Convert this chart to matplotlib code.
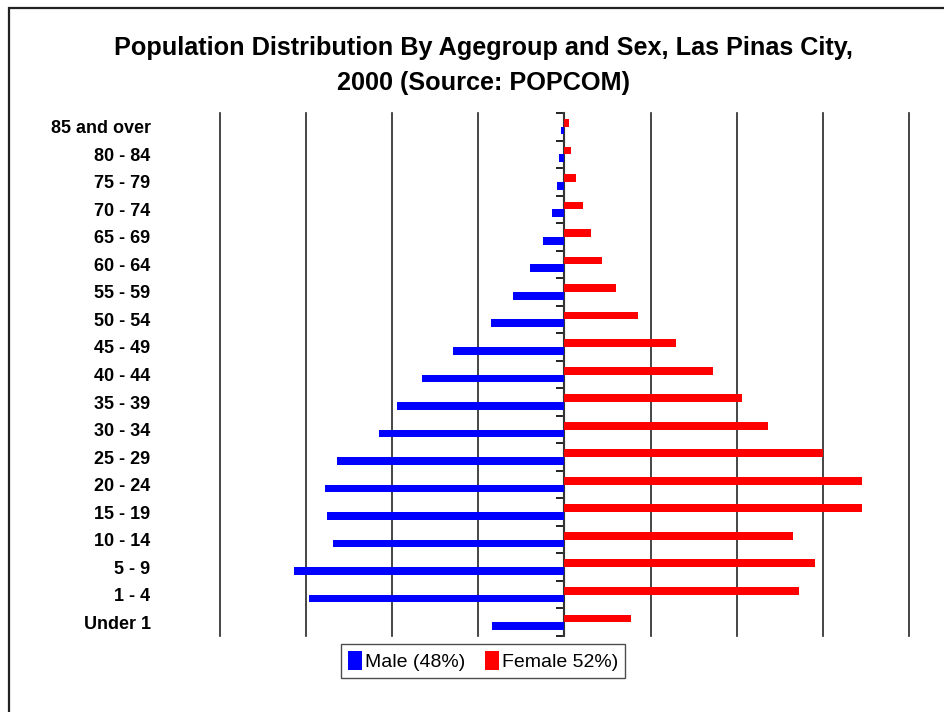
import numpy as np
import matplotlib
matplotlib.use("Agg")
import matplotlib.pyplot as plt
from matplotlib.patches import Rectangle

plt.rcParams['font.family'] = ['Liberation Sans', 'DejaVu Sans']

# age groups, bottom to top
age_groups = ["Under 1", "1 - 4", "5 - 9", "10 - 14", "15 - 19", "20 - 24",
              "25 - 29", "30 - 34", "35 - 39", "40 - 44", "45 - 49", "50 - 54",
              "55 - 59", "60 - 64", "65 - 69", "70 - 74", "75 - 79", "80 - 84",
              "85 and over"]
# share of population
male = [0.84, 2.97, 3.14, 2.69, 2.76, 2.78, 2.64, 2.15, 1.94, 1.66, 1.30,
        0.85, 0.60, 0.40, 0.25, 0.14, 0.09, 0.06, 0.035]
female = [0.77, 2.72, 2.91, 2.65, 3.46, 3.46, 3.00, 2.36, 2.06, 1.72, 1.29,
          0.85, 0.60, 0.44, 0.31, 0.22, 0.13, 0.07, 0.05]
male_label = "Male (48%)"
female_label = "Female 52%)"
title1 = "Population Distribution By Agegroup and Sex, Las Pinas City,"
title2 = "2000 (Source: POPCOM)"

W, H = 945, 712
fig = plt.figure(figsize=(W / 100, H / 100), dpi=100)
ax = fig.add_axes([220 / W, 1 - 636 / H, (909 - 220) / W, (636 - 113) / H])

y = np.arange(len(age_groups))
bh = 0.28
ax.barh(y - bh / 2, -np.array(male), height=bh, color="#0000ff", label=male_label)
ax.barh(y + bh / 2, female, height=bh, color="#ff0000", label=female_label)

ax.set_xlim(-4, 4)
ax.set_ylim(-0.5, len(age_groups) - 0.5)
ax.set_xticks(np.arange(-4, 5))
ax.tick_params(axis="x", length=0, labelbottom=False)
ax.grid(axis="x", color="#262626", lw=1.2)
for gl in ax.get_xgridlines():
    gl.set_clip_on(False)
ax.set_axisbelow(True)
for s in ax.spines.values():
    s.set_visible(False)

ax.set_yticks(y)
ax.set_yticklabels(age_groups, fontsize=13, fontweight="bold")
ax.tick_params(axis="y", length=0, pad=50)

# zero axis with tick marks between categories
sec = ax.secondary_yaxis(0.5)
sec.set_alignment("left")
sec.set_yticks(np.arange(-0.5, len(age_groups), 1.0))
sec.tick_params(axis="y", length=6, width=1.3, color="#111111",
                labelleft=False, labelright=False)
sec.spines["left"].set_color("#808080")
sec.spines["left"].set_linewidth(1.6)

fig.text(484 / W, 1 - 48 / H, title1, ha="center", va="center",
         fontsize=18.2, fontweight="bold")
fig.text(484 / W, 1 - 83 / H, title2, ha="center", va="center",
         fontsize=18.2, fontweight="bold")

leg = fig.legend(loc="center", bbox_to_anchor=(483 / W, 1 - 661 / H), ncol=2,
                 fontsize=14, frameon=True, fancybox=False, edgecolor="#222222",
                 handlelength=0.75, handleheight=1.1, handletextpad=0.15,
                 columnspacing=1.0, borderpad=0.35, borderaxespad=0)
leg.get_frame().set_linewidth(1.0)

# outer chart border (only left and top visible)
fig.add_artist(Rectangle((9 / W, -0.1), 1.2, 1.1 - 7.5 / H, fill=False,
                         lw=1.6, edgecolor="#222222", transform=fig.transFigure))

fig.savefig("out.png", dpi=100)
